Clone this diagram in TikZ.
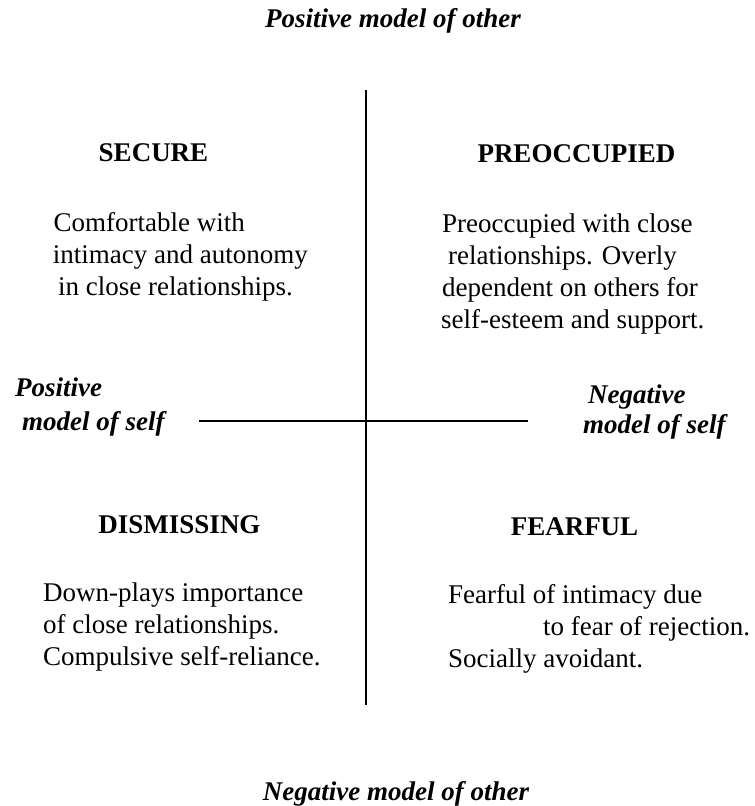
\documentclass[tikz,border=0pt]{standalone}
\usepackage{fontspec}
\setmainfont{Liberation Serif}
\begin{document}
\begin{tikzpicture}[x=1pt,y=-1pt,
  body/.style={inner sep=0pt, font=\fontsize{27}{32}\selectfont, anchor=base west},
  bodyr/.style={inner sep=0pt, font=\fontsize{27}{32}\selectfont, anchor=base east},
  head/.style={inner sep=0pt, font=\fontsize{27}{32}\selectfont\bfseries, anchor=base},
  axislab/.style={inner sep=0pt, font=\fontsize{27}{32}\selectfont\bfseries\itshape},
  rule/.style={line width=1.6pt}]
\useasboundingbox (0,0) rectangle (755,806);
% axes
\coordinate (vtop) at (366,90);
\coordinate (vbot) at (366,705);
\coordinate (hl) at (199,421);
\coordinate (hr) at (528,421);
\draw[rule] (vtop) -- (vbot);
\draw[rule] (hl) -- (hr);
% axis labels
\node[axislab, anchor=base] (posother) at (393,27) {Positive model of other};
\node[axislab, anchor=base] (negother) at (396,800) {Negative model of other};
\node[axislab, anchor=base west] (posself1) at (15,396) {Positive};
\node[axislab, anchor=base west] (posself2) at (22,430) {model of self};
\node[axislab, anchor=base west] (negself1) at (588,403) {Negative};
\node[axislab, anchor=base west] (negself2) at (583,433) {model of self};
% headings
\node[head] (secure) at (153.5,161) {SECURE};
\node[head] (preocc) at (576.5,162) {PREOCCUPIED};
\node[head] (dismiss) at (179.5,533) {DISMISSING};
\node[head] (fearful) at (574.5,535) {FEARFUL};
% secure body
\node[bodyr] (s1) at (245,231) {Comfortable with};
\node[bodyr] (s2) at (308,263) {intimacy and autonomy};
\node[bodyr] (s3) at (293,295) {in close relationships.};
% preoccupied body
\node[body] (p1) at (442,232) {Preoccupied with close};
\node[body] (p2) at (448,264) {relationships. Overly};
\node[body] (p3) at (442,296) {dependent on others for};
\node[body] (p4) at (441,328) {self-esteem and support.};
% dismissing body
\node[body] (d1) at (43,601) {Down-plays importance};
\node[body] (d2) at (43,633) {of close relationships.};
\node[body] (d3) at (43,665) {Compulsive self-reliance.};
% fearful body
\node[body] (f1) at (448,603) {Fearful of intimacy due};
\node[body] (f2) at (543,635) {to fear of rejection.};
\node[body] (f3) at (448,667) {Socially avoidant.};
\end{tikzpicture}
\end{document}
